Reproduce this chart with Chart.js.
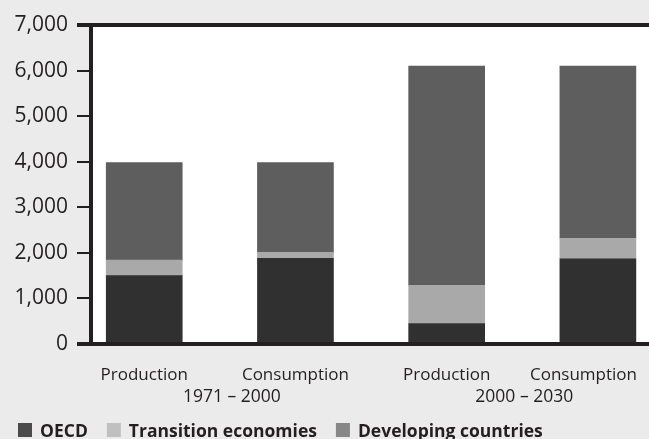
<!DOCTYPE html>
<html>
<head>
<meta charset="utf-8">
<script src="https://cdn.jsdelivr.net/npm/chart.js@4.4.1/dist/chart.umd.min.js"></script>
<style>
  html, body { margin: 0; padding: 0; background: #ebebeb; }
  canvas { display: block; }
</style>
</head>
<body>
<canvas id="chart" width="649" height="439"></canvas>
<script>
// ---- data ----
const categories = ['Production', 'Consumption', 'Production', 'Consumption'];
const periods = ['1971 – 2000', '2000 – 2030'];
const periodOfCategory = [0, 0, 1, 1];
const seriesNames = ['OECD', 'Transition economies', 'Developing countries'];
const oecd = [1500, 1880, 450, 1870];
const transition = [340, 130, 840, 450];
const developing = [2140, 1970, 4810, 3780];
const yTicks = [0, 1000, 2000, 3000, 4000, 5000, 6000, 7000];

// ---- styling ----
const INK = '#231f20';
const barColors = ['#303030', '#a9a9a9', '#5e5e5e'];
const swatchColors = ['#4b4b4b', '#c0c0c0', '#878787'];
const FONT = '"Open Sans"';

const seriesValues = [oecd, transition, developing];

// Plot background, frame lines, category/period labels and legend
const decorations = {
  id: 'decorations',
  beforeDraw(chart) {
    const { ctx, chartArea: a } = chart;
    ctx.save();
    ctx.fillStyle = '#ebebeb';
    ctx.fillRect(0, 0, chart.width, chart.height);
    ctx.fillStyle = '#ffffff';
    ctx.fillRect(a.left, a.top, a.right - a.left, a.bottom - a.top);
    ctx.restore();
  },
  afterDatasetsDraw(chart, args, opts) {
    const { ctx, chartArea: a } = chart;
    const xs = chart.scales.x;
    ctx.save();
    // top and bottom rules, extended to the tick marks
    ctx.strokeStyle = INK;
    ctx.lineWidth = 4;
    [a.top, a.bottom].forEach(y => {
      ctx.beginPath();
      ctx.moveTo(a.left - 14, y);
      ctx.lineTo(a.right, y);
      ctx.stroke();
    });

    ctx.fillStyle = INK;
    ctx.textBaseline = 'alphabetic';
    ctx.textAlign = 'center';

    // category labels at each x tick, kept inside the right margin
    ctx.font = '17px ' + FONT;
    xs.ticks.forEach((t, i) => {
      const label = categories[i];
      const w = ctx.measureText(label).width;
      let cx = xs.getPixelForTick(i);
      cx = Math.min(cx, chart.width - opts.rightMargin - w / 2);
      ctx.fillText(label, cx, opts.categoryBaseline);
    });

    // period labels under each pair of bars
    ctx.font = '17.5px ' + FONT;
    periods.forEach((p, g) => {
      const idx = periodOfCategory.map((v, i) => (v === g ? i : -1)).filter(i => i >= 0);
      const mid = (idx[0] + idx[idx.length - 1]) / 2;
      ctx.fillText(p, xs.getPixelForValue(mid) + opts.periodNudge[g], opts.periodBaseline);
    });

    // legend
    ctx.font = 'bold 17.5px ' + FONT;
    ctx.textAlign = 'left';
    let x = opts.legendLeft;
    chart.data.datasets.forEach((ds, i) => {
      ctx.fillStyle = swatchColors[i];
      ctx.fillRect(x, opts.legendBaseline - 14, 14, 14);
      ctx.fillStyle = INK;
      ctx.fillText(ds.label, x + 22, opts.legendBaseline);
      x += 22 + ctx.measureText(ds.label).width + 19;
    });
    ctx.restore();
  }
};

function build() {
  Chart.defaults.font.family = FONT;
  Chart.defaults.color = INK;

  new Chart(document.getElementById('chart'), {
    type: 'bar',
    data: {
      datasets: seriesNames.map((name, s) => ({
        label: name,
        data: seriesValues[s].map((v, i) => ({ x: i, y: v })),
        backgroundColor: barColors[s],
        borderWidth: 0
      }))
    },
    options: {
      responsive: false,
      animation: false,
      devicePixelRatio: 1,
      layout: { padding: { top: 25, right: 0, bottom: 0, left: 0 } },
      datasets: { bar: { barThickness: 76 } },
      plugins: {
        legend: { display: false },
        tooltip: { enabled: false },
        decorations: {
          categoryBaseline: 380,
          rightMargin: 12,
          periodNudge: [12, 2],
          periodBaseline: 402,
          legendLeft: 18,
          legendBaseline: 437
        }
      },
      scales: {
        x: {
          type: 'linear',
          stacked: true,
          offset: false,
          min: -0.352,
          max: 3.338,
          grid: { display: false, offset: false },
          border: { display: false },
          afterBuildTicks: s => { s.ticks = categories.map((_, i) => ({ value: i })); },
          afterFit: s => { s.height = 95; s.paddingLeft = 0; s.paddingRight = 0; },
          ticks: { display: false }
        },
        y: {
          stacked: true,
          min: 0,
          max: 7000,
          afterBuildTicks: s => { s.ticks = yTicks.map(v => ({ value: v })); },
          afterFit: s => { s.width = 91; s.paddingTop = 0; s.paddingBottom = 0; },
          grid: {
            drawOnChartArea: false,
            drawTicks: true,
            tickLength: 14,
            lineWidth: 2,
            color: INK
          },
          border: { display: true, width: 4, color: INK },
          ticks: {
            padding: 9,
            font: { size: 21 },
            color: INK,
            callback: v => v.toLocaleString('en-US')
          }
        }
      }
    },
    plugins: [decorations]
  });
}

Promise.all([
  document.fonts.load('17px "Open Sans"'),
  document.fonts.load('bold 17.5px "Open Sans"'),
  document.fonts.load('21px "Open Sans"')
]).then(build, build);
</script>
</body>
</html>
